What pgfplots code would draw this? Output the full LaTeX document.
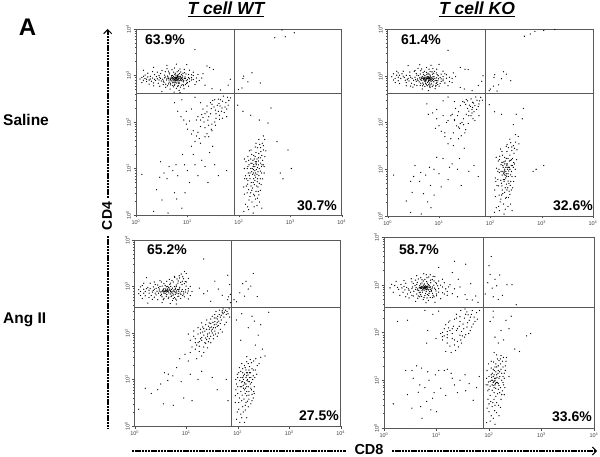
\documentclass[border=0pt]{standalone}
\usepackage{fontspec}
\setmainfont{Liberation Sans}
\usepackage{pgfplots}
\pgfplotsset{compat=1.18}
\usetikzlibrary{arrows.meta}
\definecolor{gate}{gray}{0.35}
\pgfplotsset{
  cytopanel/.style={
    scale only axis,
    anchor=south west,
    xmin=1, xmax=10000, ymin=1, ymax=10000,
    axis line style={gate, line width=0.8pt},
    tick pos=left,
    tick align=outside,
    tick style={black!70, line width=0.3pt},
    major tick length=2.5pt,
    minor tick length=1.3pt,
    xtick={1,10,100,1000,10000},
    ytick={1,10,100,1000,10000},
    xticklabels={10\textsuperscript{0},10\textsuperscript{1},10\textsuperscript{2},10\textsuperscript{3},10\textsuperscript{4}},
    yticklabels={10\textsuperscript{0},10\textsuperscript{1},10\textsuperscript{2},10\textsuperscript{3},10\textsuperscript{4}},
    tick label style={font=\fontsize{5.5}{6}\selectfont, text=black!75},
    y tick label style={rotate=90, anchor=south},
    xticklabel shift=-1pt,
    yticklabel shift=-1pt,
  },
  cells/.style={only marks, mark=*, mark size=0.36pt, mark options={draw=none, fill=black!62}},
  gateline/.style={gate, line width=0.8pt, forget plot},
}
\tikzset{axisarrow/.style={line width=1.6pt, dash pattern=on 2.4pt off 0.8pt}}
\begin{document}
\begin{tikzpicture}
\path[use as bounding box] (0pt,0pt) rectangle (600pt,456pt);

% Saline, WT
\begin{loglogaxis}[cytopanel, at={(136pt,241pt)}, width=205.7pt, height=186pt]
\addplot[cells] coordinates {
(5.8,860) (6.2,790) (5.1,910) (4.7,820) (6.9,880) (5.5,760) (7.4,830) (4.3,870) (6.4,950) (5.2,700) (3.9,800) (7.9,900)
(8.5,790) (6.0,1010) (4.9,990) (5.7,650) (6.6,720) (3.6,890) (3.3,830) (9.2,860) (10,810) (8.1,980) (7.0,1100) (4.5,1080)
(3.1,760) (2.9,920) (2.6,850) (2.4,780) (2.1,880) (1.8,800) (1.5,860) (1.3,910) (1.6,740) (1.9,960) (2.3,1040) (2.7,680)
(3.4,640) (4.1,600) (5.4,570) (6.1,530) (7.6,620) (9.6,680) (11,740) (12,900) (13,820) (8.8,1150) (6.7,1260) (5.0,1330)
(3.7,1200) (5.9,900) (6.3,840) (5.3,800) (5.6,830) (6.1,870) (6.5,810) (4.8,770) (5.0,850) (7.1,770) (7.7,860) (4.2,930)
(4.4,720) (6.8,680) (5.9,720) (5.4,960) (6.6,1040) (7.3,960) (8.3,730) (9.0,930) (3.5,720) (2.8,800) (1.4,790) (1.7,930)
(2.2,690) (2.5,950) (3.0,1100) (3.8,560) (4.6,510) (6.9,480) (8.6,520) (10.5,590) (14,640) (16,1050) (11,1300) (9.7,1720)
(24,1600) (27,1480) (32,1350) (6.1,1750) (4.0,1650) (2.2,1500) (1.4,1300) (19,880) (22,620) (30,520) (44,490) (5.5,440)
(7.2,430) (3.2,450) (14,3600) (68,830) (62,620) (124,970) (180,1140) (260,690) (115,540) (98,500) (120,860) (150,730)
(690,9500) (1200,8300) (500,6500) (800,6800)
(6.0,930) (5.4,880) (6.7,800) (4.6,880) (5.9,780) (6.4,890) (5.0,760) (7.5,900) (4.0,850) (5.7,1040) (6.9,960) (8.0,830)
(5.3,850) (6.0,820) (5.6,890) (6.3,770) (4.9,930) (7.2,850) (4.4,800) (5.1,1000) (6.5,1000) (7.8,770) (4.1,970) (3.7,930)
(8.7,870) (5.5,700) (6.2,690) (4.7,680) (7.0,690) (3.4,760) (3.0,860) (9.5,770) (5.8,1120) (4.4,1140) (7.7,1040) (3.6,1020)
(5.2,610) (6.6,610) (4.3,660) (8.2,640) (2.8,1000) (2.3,830) (1.9,840) (2.0,750) (1.6,830) (1.2,840) (1.4,960) (10.5,900)
(12,800) (15,730) (13,1000) (5.9,850) (6.1,905) (5.6,800) (6.7,850) (5.2,840) (6.3,925) (4.8,860) (6.8,930) (7.5,780)
(3.2,1280) (4.3,1240) (5.4,1180) (6.3,1200) (7.4,1190) (8.2,1120) (9.4,1080) (10.5,1050) (4.0,1400) (5.6,1450) (7.2,1380) (8.7,1350)
(3.8,650) (4.7,630) (5.6,620) (6.5,580) (7.3,560) (8.4,600) (9.2,640) (10,700) (11,850) (12,1040) (2.6,1180) (2.1,1210)
(1.7,1120) (2.9,590) (2.2,600) (1.8,650) (1.3,700) (1.5,1020) (13,1180) (15,880) (17,780) (20,1090)
(69,330) (50,360) (60,340) (44,300) (38,230) (47,200) (33,210) (52,160) (40,170) (28,150) (36,120) (25,110)
(21,100) (18,80) (16,60) (22,75) (30,90) (26,130) (56,260) (64,290) (42,140) (35,180) (29,195) (20,125)
(15,50) (14,38) (12,30) (17,44) (24,56) (11,105) (9.5,90) (7.5,130) (6.5,170) (12,190) (5.6,260) (7.8,300)
(48,280) (41,250) (54,210) (46,170) (30,240) (36,150) (58,190) (42,115) (24,165) (34,100) (19,145) (15,110)
(29,70) (26,48) (18,110) (13,65) (9.5,170) (40,310) (31,290) (18,260) (14,340) (62,230) (26,85)
(20,190) (24,220) (16,130) (22,150) (28,260) (34,300) (43,220) (58,130) (48,120) (35,85) (30,65) (22,48) (18,35) (12,55) (10,70) (8.5,110)
(31,30) (27,22) (19,15) (13,20) (8.8,12) (10,9) (16,7) (11,5) (6.5,7) (5.2,9) (3.5,8) (2.9,6.5)
(4.4,11) (2.5,3.5) (3.2,2.1) (5.6,3) (6.2,2.2) (7.8,1.4) (4.2,1.1) (2.2,1.2) (1.3,7.5) (34,12) (40,7) (58,9)
(6,12) (8,20) (4,6) (3,14) (14,12) (22,11) (25,5) (9,3)
(210,8) (190,11) (230,6) (220,14) (175,5) (205,9) (240,17) (185,3.8) (160,7) (250,10) (200,4.5) (215,13)
(170,10) (235,4) (225,7.5) (195,2.8) (150,5.5) (155,3.5) (265,13) (280,19) (245,21) (195,19) (215,22) (170,16)
(230,28) (255,33) (290,15) (310,11) (165,2.5) (210,2.2) (245,2.7) (180,1.9) (135,1.7) (225,1.6) (280,1.4) (125,1.2)
(155,1.3) (190,1.1) (140,4.2) (135,7) (145,10) (260,6) (275,8) (300,25) (320,42) (195,6) (205,5.5) (185,7.5)
(220,9.5) (180,13) (200,16) (240,12) (215,3.2) (190,5) (170,3) (230,2.3) (250,4.8) (205,11) (195,12) (225,16)
(178,8.5) (235,8.5) (165,6) (152,8) (212,6.5) (192,8) (245,7) (148,4.6) (172,4.2) (228,5.2) (262,8.8) (158,12)
(188,15) (242,14.5) (208,18) (178,20) (262,17) (230,10.5) (172,13) (142,6) (205,7.2) (222,4.2) (178,3.4) (238,3.2)
(202,2.6) (158,2.1) (262,3.4) (128,2.8) (148,1.5) (198,1.5) (252,1.9) (172,25) (208,29) (282,12) (268,23) (192,9.5)
(208,14) (218,12) (182,10) (165,8) (215,35) (245,42) (300,50)
(130,6) (128,10) (138,14) (150,18) (160,24) (300,12) (320,18) (310,8) (290,6) (270,4.5) (275,11) (335,24) (125,4) (145,3) (265,28) (285,35) (155,15) (150,11) (128,16) (300,31)
(420,200) (370,95) (550,38) (900,25) (1050,10) (720,6) (640,8) (95,230) (120,170) (170,140) (250,110)
};
\addplot[gateline] coordinates {(81,1) (81,10000)};
\addplot[gateline] coordinates {(1,410) (10000,410)};
\end{loglogaxis}

% Saline, KO
\begin{loglogaxis}[cytopanel, at={(387.7pt,240pt)}, width=205.3pt, height=187pt]
\addplot[cells] coordinates {
(6.1,860) (5.6,930) (6.6,790) (5.0,880) (7.2,900) (4.6,800) (6.0,720) (7.8,830) (4.2,900) (5.3,1000) (6.8,980) (8.3,880)
(5.2,770) (6.4,840) (5.8,890) (6.2,930) (4.8,960) (7.0,750) (3.8,850) (3.4,930) (8.9,790) (9.8,860) (10.5,920) (7.5,1080)
(6.1,1130) (4.9,1170) (3.6,760) (3.0,880) (2.7,1010) (2.4,820) (2.1,920) (1.8,870) (1.6,780) (1.4,880) (1.2,950) (1.9,1100)
(2.3,720) (2.9,690) (3.3,640) (4.3,620) (5.0,660) (5.9,610) (6.7,560) (7.7,630) (8.8,690) (11,760) (12,850) (13,700)
(9.2,1060) (8.2,1240) (6.4,1380) (4.6,1400) (3.3,1250) (5.4,840) (5.7,810) (6.3,880) (6.9,850) (4.5,860) (5.1,830) (7.4,790)
(5.5,740) (6.5,700) (4.1,740) (3.7,1030) (8.0,950) (9.1,720) (2.6,770) (1.7,1030) (1.5,1250) (3.1,570) (4.7,520) (6.2,480)
(8.4,530) (10,600) (14,1050) (15,610) (18,870) (21,960) (26,1500) (32,1380) (37,1350) (10,1750) (7.0,1680) (4.2,1720)
(2.5,1650) (26,560) (31,520) (44,480) (58,620) (15,3500) (72,1000) (68,760) (118,920) (122,1050) (180,1220) (205,1080)
(250,780) (100,520) (115,600) (95,480) (135,470) (165,860) (145,640)
(740,8900) (1100,9300) (460,7000) (600,7800) (1800,9800)
(5.9,950) (6.5,880) (5.4,790) (7.0,830) (4.5,930) (6.2,760) (5.0,820) (7.6,950) (3.9,790) (5.8,1060) (6.7,1030) (8.4,790)
(5.6,870) (6.3,790) (6.0,900) (4.7,880) (5.3,910) (7.3,850) (4.3,820) (5.0,1060) (6.4,1080) (7.9,740) (4.0,1010) (3.5,830)
(9.0,900) (5.5,680) (6.3,650) (4.8,700) (7.1,670) (3.2,800) (2.8,930) (9.5,780) (5.7,1180) (4.3,1090) (7.9,1130) (3.6,1120)
(5.3,590) (6.7,640) (4.4,690) (8.6,600) (2.5,880) (2.2,800) (2.0,980) (2.3,1020) (1.6,930) (1.3,810) (1.5,1030) (11,860)
(12,960) (16,750) (14,880) (6.0,870) (6.2,950) (5.7,850) (6.8,900) (5.2,880) (6.5,930) (4.9,900) (6.9,810) (7.6,880)
(3.4,1300) (4.4,1280) (5.2,1240) (6.7,1230) (7.3,1210) (8.9,1150) (9.6,1000) (11,1080) (3.9,1450) (5.7,1500) (7.6,1420) (9.0,1380)
(3.7,620) (4.8,610) (5.7,640) (6.6,600) (7.4,590) (8.7,620) (9.4,650) (10.5,680) (12,780) (13,1100) (2.7,1200) (2.0,1250)
(1.6,1150) (2.8,600) (2.3,610) (1.7,680) (1.4,720) (1.3,1100) (12,1250) (16,930) (18,720) (19,1150)
(70,300) (52,350) (62,290) (45,270) (41,220) (50,230) (36,200) (48,170) (42,140) (30,120) (34,150) (26,95)
(22,85) (19,60) (17,45) (15,35) (25,75) (28,100) (38,175) (55,300) (65,345) (44,190) (33,245) (20,110)
(12,140) (10,85) (7.5,160) (5.8,250) (6.2,150) (12,290) (8.5,75) (15,110)
(47,260) (39,235) (54,190) (44,160) (31,270) (38,140) (58,220) (46,120) (24,170) (30,90) (18,150) (14,100)
(33,70) (27,52) (20,115) (13,60) (9,190) (42,320) (34,310) (20,280) (15,350) (60,250) (24,80)
(21,200) (26,230) (17,140) (23,140) (29,280) (36,290) (45,210) (60,140) (50,110) (37,95) (32,60) (24,45) (19,32) (13,50) (11,65) (9,120)
(31,28) (25,17) (18,13) (12,17) (8,10) (10,8) (15,6) (11,4.2) (5.5,7.5) (4.4,8.5) (3.2,7) (2.8,5.5)
(6.8,4.5) (3,3.2) (2.3,2.1) (5,3) (6,2) (7,1.5) (4.5,1.1) (2.8,1.2) (1.3,7.5) (38,9) (48,12) (58,7)
(6.5,11) (9,18) (4.2,5.5) (3.4,12) (16,11) (23,10) (27,4.5) (8,2.8)
(205,8) (190,10) (225,7) (215,13) (180,6) (200,9) (235,15) (195,4) (170,7.5) (240,10) (205,4.8) (210,12)
(175,9) (230,5) (220,8) (190,3.2) (165,5) (170,3.6) (255,12) (270,17) (240,20) (190,18) (210,24) (175,14)
(225,29) (250,37) (285,14) (305,10) (160,2.3) (205,2.5) (240,2.9) (180,1.8) (130,1.5) (220,1.6) (265,1.3) (120,1.2)
(150,1.3) (185,1.1) (135,4.5) (125,6.5) (140,9) (250,5.5) (265,7) (290,22) (310,38) (190,6) (200,6.5) (185,8.5)
(215,10) (175,12) (195,15) (235,11) (210,3.6) (185,5.5) (165,2.8) (225,2.5) (245,4.5) (200,11) (190,13) (220,17)
(182,8) (228,9.2) (160,5.8) (150,8.5) (208,7) (188,7.6) (248,7.6) (145,4.4) (168,4.4) (222,5.6) (258,9) (162,12.5)
(185,14.5) (245,15.5) (205,17) (172,20) (258,16) (226,11) (168,14) (140,6) (200,7.4) (218,4) (175,3) (232,3.4)
(198,2.4) (155,2) (255,3.6) (125,2.6) (145,1.6) (195,1.4) (248,1.8) (168,24) (205,31) (280,11) (262,25) (188,9.2)
(204,13) (212,11) (178,11) (162,9) (212,34) (240,44) (310,55)
(128,5.5) (132,10.5) (142,15) (152,19) (158,27) (295,13) (325,16) (305,7) (285,5.5) (272,4) (270,12) (330,26) (122,3.6) (148,2.8) (262,30) (280,32) (150,16) (148,10) (130,18) (295,28)
(440,200) (420,120) (320,150) (280,90) (350,50) (780,10) (1100,12) (680,9) (120,170) (95,240) (165,150) (360,35)
};
\addplot[gateline] coordinates {(80.5,1) (80.5,10000)};
\addplot[gateline] coordinates {(1,410) (10000,410)};
\end{loglogaxis}

% Ang II, WT
\begin{loglogaxis}[cytopanel, at={(134.7pt,30pt)}, width=206pt, height=186pt]
\addplot[cells] coordinates {
(4.2,820) (5.0,780) (3.6,850) (4.6,730) (5.8,840) (6.6,720) (3.9,700) (7.2,790) (3.2,760) (4.4,890) (5.4,920) (6.2,680)
(3.0,880) (2.7,790) (2.4,870) (2.2,760) (1.9,830) (1.7,900) (1.5,720) (1.3,640) (1.2,850) (1.6,630) (2.1,640) (2.6,660)
(3.4,600) (4.1,620) (5.1,610) (5.9,580) (6.9,610) (7.9,680) (8.8,770) (9.7,850) (10.5,720) (12,640) (7.5,960) (8.3,1100)
(6.4,1080) (5.6,1250) (7.0,1320) (8.9,1470) (9.6,1280) (6.0,1560) (4.8,1100) (3.7,1150) (2.8,1080) (2.0,1180) (1.4,1050) (1.7,1550)
(4.3,800) (4.7,840) (3.8,770) (5.2,860) (4.0,880) (3.5,820) (6.0,770) (6.8,860) (5.5,720) (4.9,690) (3.3,680) (2.9,720)
(7.6,720) (8.4,860) (6.4,1000) (5.0,1000) (4.1,990) (3.1,1000) (2.3,980) (4.5,560) (3.6,520) (2.8,520) (2.2,530) (5.4,500)
(6.5,510) (7.8,550) (9.2,600) (11,540) (12,1000) (10,1900) (8.0,1850) (9.3,2100) (3.4,450) (4.9,430) (6.4,420) (1.8,440)
(18,920) (22,700) (26,800) (30,480) (36,1300) (42,880) (50,650) (22,3900) (64,1750) (70,1100)
(72,680) (64,520) (66,600) (72,450) (85,520) (95,470) (110,730) (125,1150) (145,1300) (180,1020) (200,1900) (160,880) (135,620) (240,610)
(4.1,760) (3.4,780) (4.9,810) (3.7,900) (5.3,770) (6.1,860) (4.4,780) (3.9,830) (4.8,880) (5.6,800) (7.0,700) (3.0,800)
(2.6,910) (2.3,820) (1.9,720) (1.5,870) (1.3,780) (2.0,900) (2.5,720) (3.2,640) (4.2,670) (5.3,650) (6.3,750) (7.4,880)
(8.1,790) (9.0,690) (4.6,950) (5.9,990) (6.9,1180) (7.8,1230) (6.2,920) (5.0,1180) (3.9,1060) (2.9,950) (3.4,1020) (4.4,1000)
(4.0,790) (3.7,720) (4.5,800) (5.1,730) (3.6,770) (4.3,850) (6.5,800) (7.1,850) (5.7,660) (2.5,1100) (1.6,780) (1.8,960)
(3.3,1250) (4.2,1300) (5.3,1350) (6.6,1450) (7.4,1520) (8.4,1300) (9.2,1150) (10,1020) (4.7,1420) (5.9,1650) (7.3,1700) (8.6,1620)
(3.7,560) (4.6,590) (5.6,550) (6.2,540) (7.2,620) (8.6,640) (9.6,760) (11,900) (2.4,590) (1.9,580) (1.4,550) (1.5,1180)
(2.4,1250) (3.1,1330) (1.3,980) (1.2,700) (11,800) (13,780) (10,1250) (11,1500)
(68,330) (58,310) (50,280) (44,250) (54,220) (60,250) (40,200) (36,175) (30,160) (34,130) (25,120) (28,100)
(22,90) (20,80) (18,65) (16,55) (25,72) (30,85) (36,110) (42,145) (48,190) (38,155) (32,120) (26,95)
(21,105) (17,95) (14,85) (12,70) (15,45) (18,40) (20,32) (16,28) (22,50) (12,38) (27,140) (21,135)
(30,200) (36,250) (44,310) (52,330) (34,90) (42,100) (24,60) (19,75) (28,75) (40,140) (46,160) (31,110)
(26,85) (23,110) (29,130) (35,150) (40,170) (46,220) (52,260) (62,290) (38,210) (33,170) (28,120) (24,78)
(20,70) (17,62) (15,75) (27,65) (32,100) (37,130) (43,180) (55,280) (65,260) (48,240) (22,125) (19,100)
(17,130) (14,110) (11,95) (20,165) (25,190) (32,230) (38,290) (46,120) (56,150) (30,62) (26,48) (22,38) (34,75) (40,85) (13,50) (15,62)
(19,120) (24,150) (28,165) (35,210) (41,230) (50,300) (31,135) (37,95) (23,62) (18,52)
(70,220) (60,170) (50,105) (9.5,35) (7.5,28) (11,25) (6.5,18) (5.5,12) (4.4,9.5) (3.8,14) (4.5,13) (3.2,8)
(2.8,6) (2.1,5) (1.6,6.5) (1.2,2.3) (3.6,3) (5.6,2.8) (9,4) (13,3.5) (8,9) (12,13) (17,10) (20,15) (32,11) (40,6) (60,10) (65,3.5)
(145,8) (130,10) (160,7) (150,12) (135,6) (125,9) (170,14) (150,4.5) (120,7) (180,11) (140,5) (155,10)
(135,13) (165,5.5) (175,8) (145,3.2) (115,5.5) (120,3.5) (195,10) (200,16) (170,19) (145,16) (160,22) (125,17)
(175,27) (150,31) (210,7) (235,13) (105,2.3) (140,2.2) (160,2.6) (115,1.8) (95,1.4) (150,1.5) (135,1.2) (110,1.2)
(100,5) (95,8) (110,9.5) (190,4.8) (205,5.5) (260,22) (280,30) (150,7) (135,8.5) (160,9) (145,11) (125,14) (155,14)
(170,11) (115,11) (105,14) (140,18) (185,23) (130,6.5) (150,5.5) (165,3.8) (125,2.6) (90,3.2)
(138,8) (152,9.5) (128,7.5) (168,9) (142,6.5) (118,8.8) (158,12.5) (180,6.5) (130,12) (148,14) (165,16) (125,11)
(112,7) (108,4) (132,3.8) (155,3.4) (122,4.6) (178,14) (190,17) (135,20) (150,24) (115,15) (100,11) (92,6)
(140,2.8) (128,2) (105,3.2) (98,2) (120,1.5) (165,4.6) (185,8.6) (200,12)
(100,7) (92,10) (98,13) (108,18) (120,22) (215,11) (220,16) (210,5) (200,4) (190,3.5) (185,6) (240,20) (90,4.5) (180,3) (205,25) (225,28)
(210,180) (250,90) (190,230) (160,130) (120,260) (95,190) (300,45) (340,32) (280,150) (400,280) (115,70) (220,55)
};
\addplot[gateline] coordinates {(75,1) (75,10000)};
\addplot[gateline] coordinates {(1,350) (10000,350)};
\end{loglogaxis}

% Ang II, KO
\begin{loglogaxis}[cytopanel, at={(384pt,28pt)}, width=210pt, height=191pt]
\addplot[cells] coordinates {
(6.0,900) (5.2,840) (6.8,860) (5.6,980) (4.6,760) (7.6,800) (4.1,880) (6.4,730) (7.0,1000) (3.7,730) (8.4,900) (5.0,1040)
(5.8,770) (6.3,820) (6.6,930) (5.4,900) (4.8,950) (7.4,720) (3.4,830) (3.0,770) (2.7,880) (2.4,930) (2.1,1010) (1.9,800)
(1.6,960) (1.4,1020) (2.3,700) (2.8,640) (3.4,600) (4.2,640) (5.0,620) (6.0,590) (7.1,600) (8.4,660) (9.8,740) (11,830)
(12,980) (14,640) (15,820) (10,1050) (9.0,1200) (7.7,1250) (6.0,1300) (4.5,1320) (3.4,1150) (8.6,1500) (6.4,1620) (5.0,1400)
(5.9,850) (6.1,880) (5.5,800) (6.5,790) (7.2,890) (4.4,820) (4.9,700) (3.9,960) (8.0,760) (9.2,850) (10.5,950) (3.0,530)
(4.4,520) (5.6,490) (7.0,470) (8.4,540) (10,590) (12,510) (16,720) (18,1000) (20,650) (4.0,450) (6.3,420) (9.4,430)
(20,1800) (26,1300) (36,2700) (22,3100) (28,900) (35,620) (38,490) (45,1050) (48,480) (56,580) (62,430) (11,2300)
(100,2500) (110,3900) (105,1650) (130,1300) (160,1600) (95,1100) (115,850) (140,950) (180,600) (220,1000) (275,1000) (120,560) (150,490) (330,380) (85,640)
(6.2,950) (5.8,910) (6.9,800) (5.3,770) (4.7,880) (6.4,880) (5.7,840) (7.3,950) (4.3,780) (5.9,1040) (6.7,1080) (8.2,820)
(5.5,860) (6.1,810) (6.0,930) (4.9,830) (5.1,920) (7.5,870) (4.0,800) (5.3,1090) (6.5,1160) (7.9,720) (4.2,1010) (3.5,900)
(8.9,980) (5.4,700) (6.2,660) (4.7,680) (7.2,660) (3.2,700) (2.9,820) (9.5,800) (5.6,1200) (4.3,1120) (7.8,1100) (3.6,1060)
(5.2,570) (6.7,620) (4.5,580) (8.6,600) (2.5,780) (2.2,860) (1.8,880) (2.6,1080) (11,700) (13,900) (16,600) (14,1100)
(6.1,850) (5.9,890) (6.4,910) (5.6,860) (6.8,930) (5.2,890) (6.6,820) (5.0,870) (7.0,780) (7.7,900)
(3.3,1330) (4.0,1250) (5.3,1270) (6.6,1400) (7.1,1450) (8.3,1280) (9.7,1120) (11,1200) (4.2,1550) (5.7,1700) (7.6,1620) (9.3,1480)
(3.6,580) (4.8,560) (5.8,540) (6.6,530) (7.6,540) (9.0,560) (10,640) (13,680) (2.6,560) (2.0,600) (1.5,700) (1.7,1180)
(2.4,1230) (1.3,860) (13,1300) (17,900) (22,820) (25,560)
(66,290) (58,260) (52,210) (46,240) (38,270) (34,200) (42,180) (28,170) (24,240) (32,150) (25,120) (38,130)
(30,105) (21,135) (18,110) (16,90) (14,120) (20,75) (25,65) (30,60) (16,60) (15,40) (19,38) (13,70)
(36,90) (44,110) (50,150) (60,190) (22,190) (17,165) (28,88) (26,50) (23,42) (12,95) (9.8,75) (6.5,60)
(6.8,110) (11,280) (6.0,290) (8.5,240) (2.8,180) (1.8,170)
(40,235) (48,290) (35,310) (29,290) (24,110) (20,95) (17,125) (14,85) (27,135) (33,120) (39,160) (31,85) (22,70) (18,52) (16,78) (13,100)
(15,145) (18,175) (24,200) (28,215) (36,240) (44,210) (54,170) (20,120) (16,105) (13,82) (22,55) (29,70) (34,80) (41,95) (47,130)
(14,16) (11,16) (16,17) (19,14) (9.5,13) (6.8,15) (4.2,20) (5.2,18) (3.4,16) (2.6,16) (7.2,10) (4.8,8)
(3.6,11) (6.0,7) (9,5.5) (12,6.8) (15,4.8) (22,8) (28,10) (35,13) (42,8.5) (36,6) (50,3.8) (58,7) (65,12)
(5.0,2.8) (6.5,3.6) (7.8,2.4) (3.4,2.6) (1.5,3.2) (2.8,5.0) (4.5,5.6) (8.4,4.2) (10,2.2) (20,11) (25,5.5) (5.3,1.6)
(130,10) (120,12) (145,9) (135,15) (115,8) (125,7) (155,11) (110,10) (140,13) (170,17) (125,5.5) (150,6.5)
(105,9.5) (115,14) (140,19) (165,22) (130,8) (120,9) (135,11) (150,16) (180,25) (195,14) (205,20) (120,17)
(145,28) (170,33) (135,22) (110,18) (100,6.5) (95,8) (90,11) (125,4) (105,4.8) (140,3.4) (175,5) (190,8)
(130,3) (115,2.8) (100,2.2) (140,2.1) (155,1.8) (120,1.6) (105,1.4) (130,1.2) (165,2.7) (90,1.3) (100,3.2) (160,12)
(125,13) (155,7.8) (110,13) (128,11) (138,9) (118,10) (148,14) (100,12) (175,10) (215,30) (240,12) (110,25) (125,38)
(122,9.2) (133,8.6) (142,11.5) (112,11.5) (128,9.6) (120,7.8) (135,6.8) (150,8.5) (160,15) (126,16) (115,6.2) (105,7.5)
(98,9.2) (95,6) (108,3.6) (145,5.2) (165,7) (185,12) (150,20) (130,19) (155,26) (122,24) (140,34) (185,19)
(135,4.6) (118,3.4) (152,3) (92,2.6) (110,1.8) (128,2.3)
(185,9) (195,11) (205,16) (175,14) (165,28) (188,30) (210,25) (200,7) (160,5.5) (180,6) (92,16) (98,22) (88,8) (96,4) (170,4) (195,5)
(210,180) (170,110) (120,210) (105,170) (150,60) (130,80) (190,70) (240,120) (265,220) (310,45) (380,40) (520,85) (620,95) (120,280)
};
\addplot[gateline] coordinates {(78,1) (78,10000)};
\addplot[gateline] coordinates {(1,340) (10000,340)};
\end{loglogaxis}

% text around the panels
\node[font=\bfseries\fontsize{24}{26}\selectfont] at (27.5pt,429pt) {A};
\node[font=\bfseries\itshape\fontsize{17.5}{19}\selectfont] at (226pt,446.5pt) {\underline{T cell WT}};
\node[font=\bfseries\itshape\fontsize{17.5}{19}\selectfont] at (477pt,446.5pt) {\underline{T cell KO}};
\node[font=\bfseries\fontsize{15.5}{17}\selectfont, anchor=west, inner sep=0pt] at (3pt,336pt) {Saline};
\node[font=\bfseries\fontsize{15.5}{17}\selectfont, anchor=west, inner sep=0pt] at (3pt,136pt) {Ang II};

\begin{scope}[font=\bfseries\fontsize{14}{16}\selectfont, inner sep=0pt]
\node at (165pt,416pt) {63.9\%};
\node at (317pt,250pt) {30.7\%};
\node at (421pt,416pt) {61.4\%};
\node at (573pt,250pt) {32.6\%};
\node at (167pt,206pt) {65.2\%};
\node at (319pt,40pt) {27.5\%};
\node at (419pt,206pt) {58.7\%};
\node at (572pt,39pt) {33.6\%};
\end{scope}

\node[font=\bfseries\fontsize{14}{16}\selectfont, rotate=90, inner sep=0pt] at (107pt,240pt) {CD4};
\node[font=\bfseries\fontsize{14.5}{16}\selectfont, inner sep=0pt] at (369pt,6.5pt) {CD8};
\draw[axisarrow, -{Straight Barb[length=4pt, width=8pt, line width=1pt]}] (107.7pt,258pt) -- (107.7pt,427pt);
\draw[axisarrow] (107.7pt,220pt) -- (107.7pt,27pt);
\draw[axisarrow] (132pt,5pt) -- (346pt,5pt);
\draw[axisarrow, -{Straight Barb[length=4pt, width=8pt, line width=1pt]}] (392pt,5pt) -- (597pt,5pt);
\end{tikzpicture}
\end{document}
